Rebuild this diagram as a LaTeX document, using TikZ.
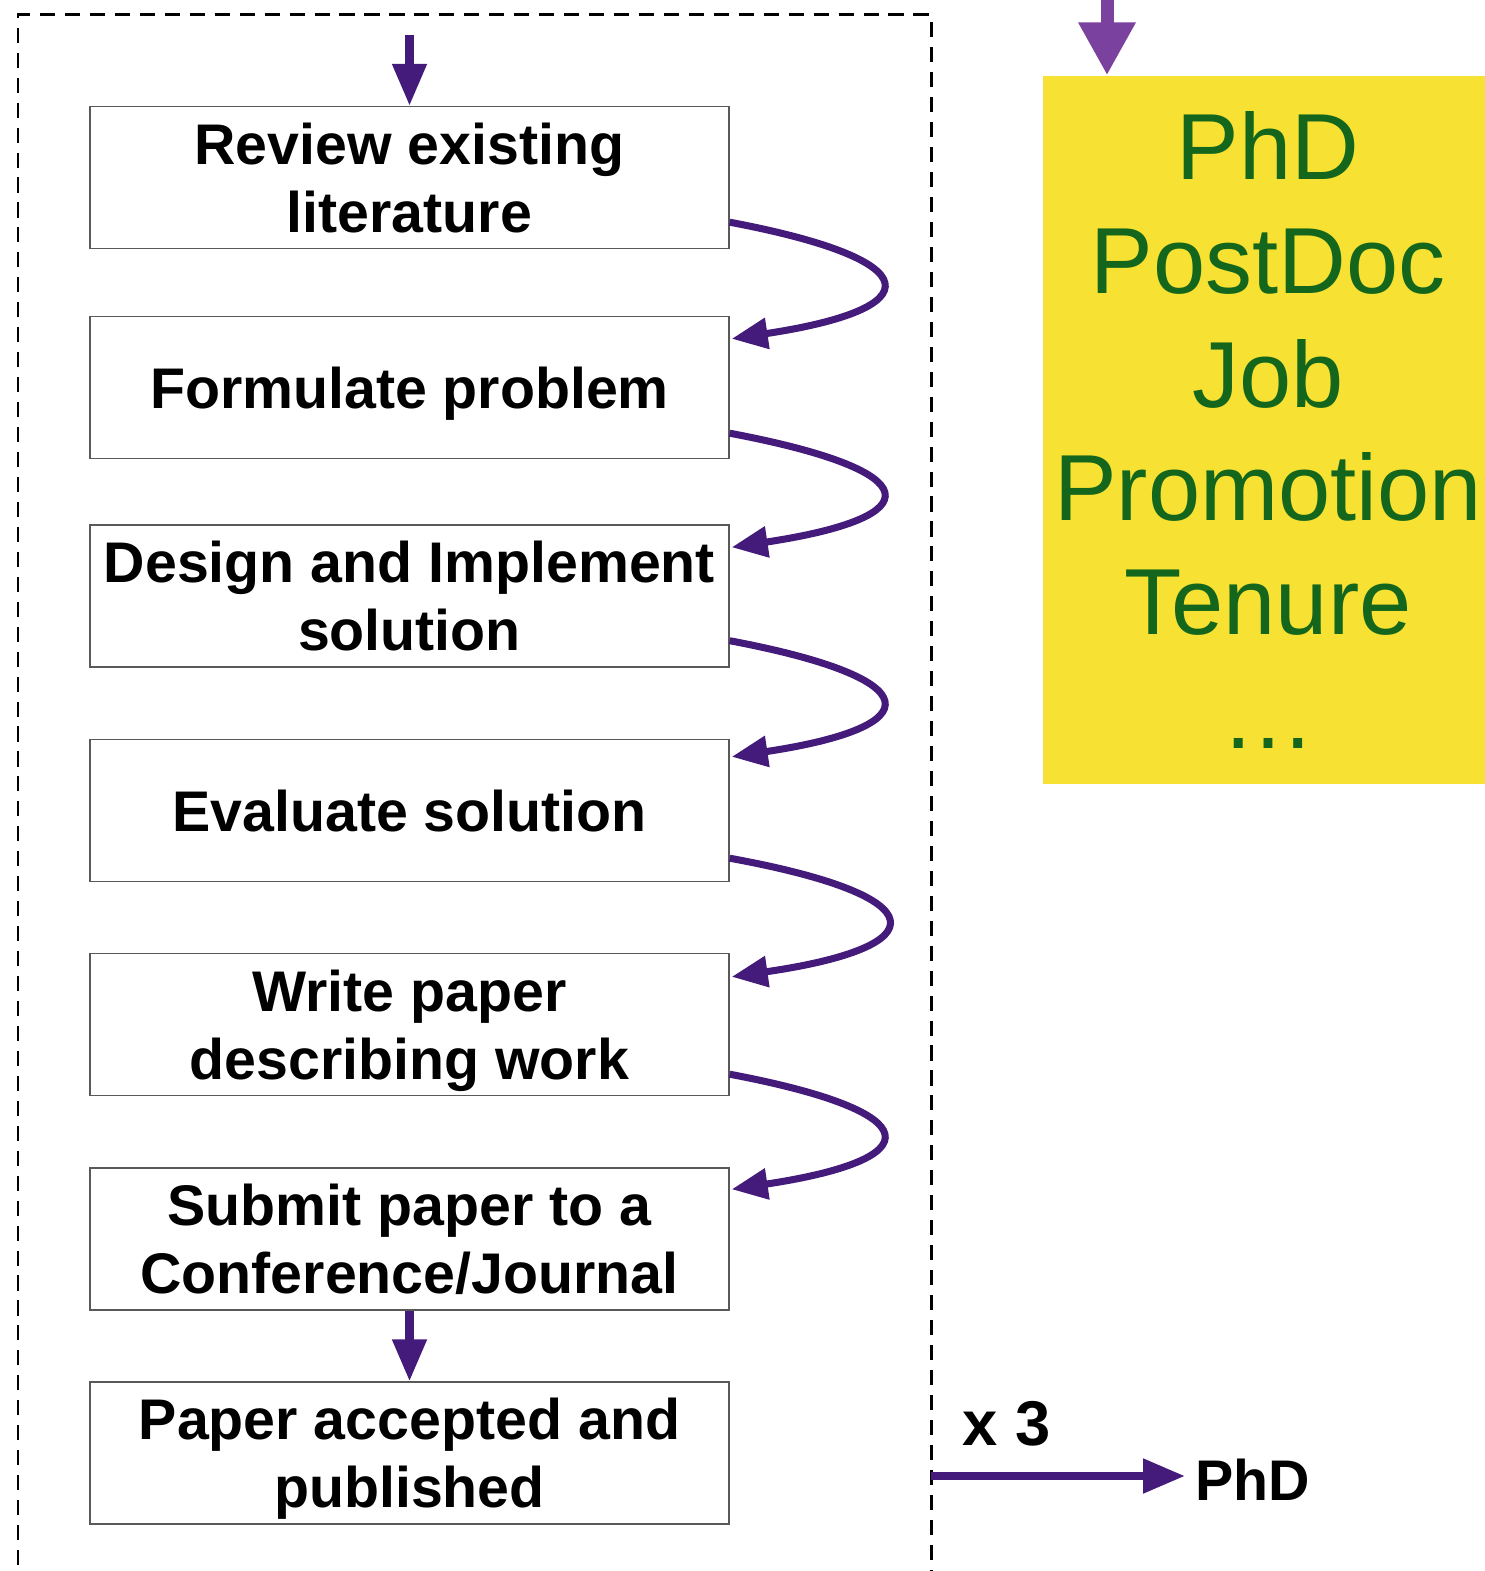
\documentclass[tikz,border=0pt]{standalone}
\usepackage{fontspec}
\setmainfont{Liberation Sans}
\usetikzlibrary{arrows.meta}
\definecolor{flowpurple}{HTML}{441A7B}
\definecolor{lightpurple}{HTML}{7B419E}
\definecolor{postit}{HTML}{F7E132}
\definecolor{careergreen}{HTML}{13661B}

\begin{document}
\begin{tikzpicture}
[stagebox/.style = {draw=black!65, line width=0.4pt, minimum width=6.39cm, minimum height=1.42cm, inner sep=0, text depth=0pt, align=center, font=\fontsize{16.3}{19.4}\selectfont\bfseries},
 flow/.style = {draw=flowpurple, line width=2pt, -{Triangle[length=3.6mm,width=3.0mm]}},
 straight/.style = {draw=flowpurple, line width=2.3pt, -{Triangle[length=4.2mm,width=3.3mm]}},]

\useasboundingbox (0,0) rectangle (14.84,-15.71);

% dashed loop frame, open at the bottom
\draw[line width=0.85pt, dash pattern=on 4.3pt off 2.8pt] (0.18,-15.9) -- (0.18,-0.15) -- (9.31,-0.15) -- (9.31,-15.9);

\node (R) at (4.095,-1.775)[stagebox] {Review existing\\literature};
\node (F) at (4.095,-3.875)[stagebox] {Formulate problem};
\node (D) at (4.095,-5.96)[stagebox] {Design and Implement\\solution};
\node (E) at (4.095,-8.105)[stagebox] {Evaluate solution};
\node (W) at (4.095,-10.245)[stagebox] {Write paper\\describing work};
\node (S) at (4.095,-12.39)[stagebox] {Submit paper to a\\Conference/Journal};
\node (A) at (4.095,-14.53)[stagebox] {Paper accepted and\\published};

\coordinate (start) at (4.095,-0.35);
\draw[straight] (start) -- (R.north);
\draw[flow] ([yshift=2.7mm]R.south east) .. controls +(2.01,-0.38) and +(1.99,0.30) .. ([xshift=0.2mm,yshift=-2.3mm]F.north east);
\draw[flow] ([yshift=2.6mm]F.south east) .. controls +(2.01,-0.38) and +(1.99,0.30) .. ([xshift=0.2mm,yshift=-2.3mm]D.north east);
\draw[flow] ([yshift=2.7mm]D.south east) .. controls +(2.01,-0.38) and +(1.99,0.30) .. ([xshift=0.2mm,yshift=-1.8mm]E.north east);
\draw[flow] ([yshift=2.4mm]E.south east) .. controls +(2.08,-0.38) and +(2.06,0.30) .. ([xshift=0.2mm,yshift=-2.4mm]W.north east);
\draw[flow] ([yshift=2.2mm]W.south east) .. controls +(2.01,-0.38) and +(1.99,0.30) .. ([xshift=0.2mm,yshift=-2.2mm]S.north east);
\draw[straight] (S.south) -- (A.north);

\node (times) at (9.62,-14.45)[anchor=base west, inner sep=0, font=\fontsize{18}{20}\selectfont\bfseries] {x 3};
\node (phd) at (11.85,-14.80)[anchor=west, inner sep=1mm, font=\fontsize{16.3}{19.3}\selectfont\bfseries] {PhD};
\coordinate (out) at (9.31,-14.76);
\draw[straight] (out) -- (out -| phd.west);

\node (career) at (12.68,-4.30)[fill=postit, inner sep=0, minimum width=4.5cm, minimum height=7.08cm, align=center, text=careergreen, font=\fontsize{26.7}{32.4}\selectfont] {PhD\\PostDoc\\Job\\Promotion\\Tenure\\\dots};
\coordinate (careerin) at (11.07,0.2);
\draw[draw=lightpurple, line width=3.7pt, -{Triangle[length=5.3mm,width=5.4mm]}] (careerin) -- (careerin |- career.north);
\end{tikzpicture}
\end{document}
